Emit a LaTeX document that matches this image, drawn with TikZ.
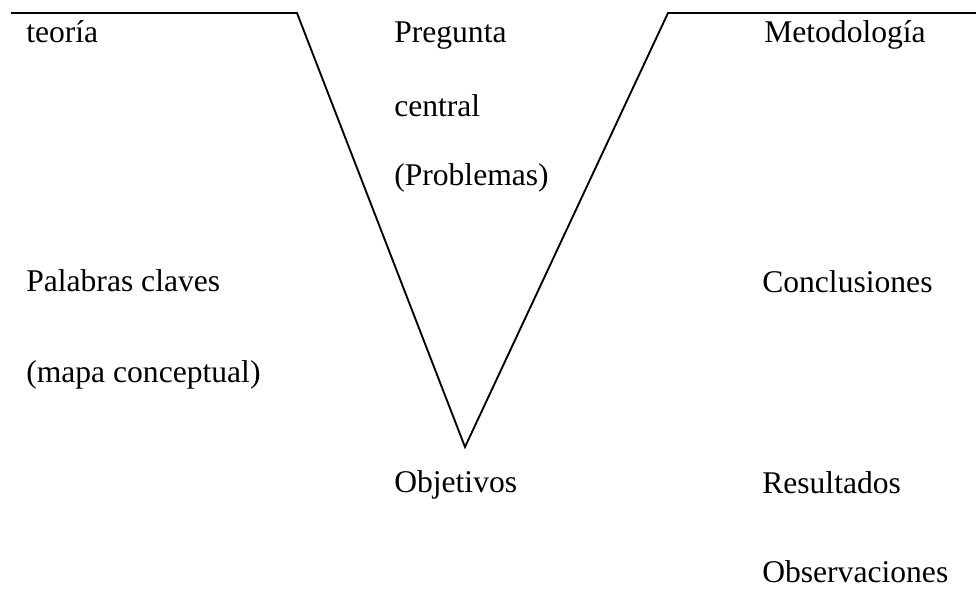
\documentclass[tikz,border=0pt]{standalone}
\usepackage{fontspec}
\setmainfont{Liberation Serif}
\begin{document}
\begin{tikzpicture}[x=0.75pt,y=-0.75pt,
  lbl/.style={anchor=base west,inner sep=0pt,font=\fontsize{23.7}{28}\selectfont},
  vline/.style={line width=1.4pt}]
\useasboundingbox (0,0) rectangle (976,598);
\coordinate (tl) at (11,13);
\coordinate (vl) at (297,13);
\coordinate (vb) at (465,447);
\coordinate (vr) at (668,13);
\coordinate (tr) at (976,13);
\draw[vline] (tl) -- (vl) -- (vb) -- (vr) -- (tr);
% left column
\node[lbl] (teoria) at (26,43) {teoría};
\node[lbl] (palabras) at (26,292) {Palabras claves};
\node[lbl] (mapa) at (26,383) {(mapa conceptual)};
% middle column
\node[lbl] (pregunta) at (394,43) {Pregunta};
\node[lbl] (central) at (394,117) {central};
\node[lbl] (problemas) at (394,186) {(Problemas)};
\node[lbl] (objetivos) at (394,493) {Objetivos};
% right column
\node[lbl] (metodologia) at (764,43) {Metodología};
\node[lbl] (conclusiones) at (762,293) {Conclusiones};
\node[lbl] (resultados) at (762,494) {Resultados};
\node[lbl] (observaciones) at (762,583) {Observaciones};
\end{tikzpicture}
\end{document}
